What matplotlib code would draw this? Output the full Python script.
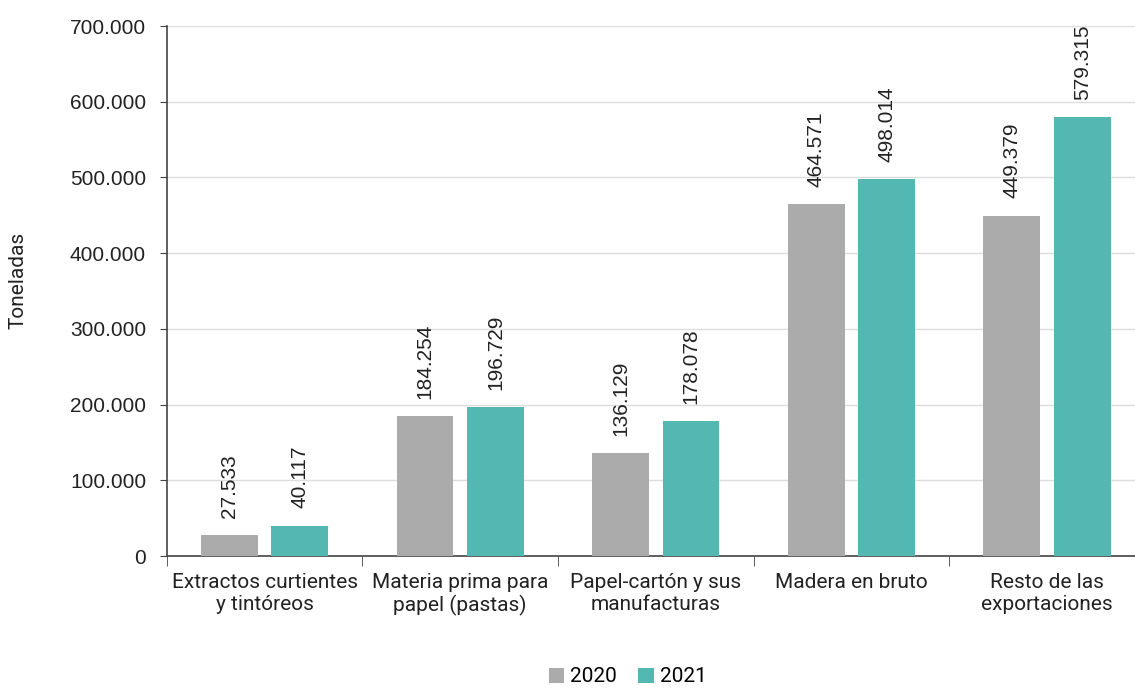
import numpy as np
import matplotlib.pyplot as plt
from matplotlib.patches import Patch

categories = [
    "Extractos curtientes\ny tintóreos",
    "Materia prima para\npapel (pastas)",
    "Papel-cartón y sus\nmanufacturas",
    "Madera en bruto",
    "Resto de las\nexportaciones",
]
vals_2020 = [27533, 184254, 136129, 464571, 449379]
vals_2021 = [40117, 196729, 178078, 498014, 579315]
series_names = ["2020", "2021"]
yticks = [0, 100000, 200000, 300000, 400000, 500000, 600000, 700000]

color_2020 = "#ABABAB"
color_2021 = "#52B8B1"
arial = ["Liberation Sans", "DejaVu Sans"]


def fmt(v):
    return f"{v:,.0f}".replace(",", ".")


plt.rcParams["font.family"] = ["Roboto", "DejaVu Sans"]

fig = plt.figure(figsize=(11.35, 6.9), dpi=100)
ax = fig.add_axes([0.147, 0.1942, 0.853, 0.7681])

x = np.arange(len(categories))
w = 0.29
off = 0.18
b1 = ax.bar(x - off, vals_2020, w, color=color_2020, zorder=3)
b2 = ax.bar(x + off, vals_2021, w, color=color_2021, zorder=3)

for bars, vals in ((b1, vals_2020), (b2, vals_2021)):
    for rect, v in zip(bars, vals):
        ax.annotate(fmt(v), (rect.get_x() + rect.get_width() / 2, v),
                    xytext=(0, 12.5), textcoords="offset points", family=arial,
                    rotation=90, ha="center", va="bottom", fontsize=15, color="#222222")

ax.set_yticks(yticks)
ax.set_yticklabels([fmt(v) for v in yticks], fontsize=15, family=arial, color="#222222")
ax.set_xticks(x)
ax.set_xticklabels(categories, fontsize=15, linespacing=1.2, color="#222222")
ax.set_xticks(np.arange(-0.5, 5.0, 1.0), minor=True)
# limits after ticks, since set_xticks widens the view
ax.set_ylim(0, 700000)
ax.set_xlim(-0.5, 4.45)
ax.tick_params(axis="x", which="major", length=0, pad=12)
ax.tick_params(axis="x", which="minor", length=7, color="#444444")
ax.tick_params(axis="y", length=5, color="#444444", pad=10)

ax.grid(axis="y", color="#DDDDDD", linewidth=1, zorder=0)
for s in ("top", "right"):
    ax.spines[s].set_visible(False)
for s in ("left", "bottom"):
    ax.spines[s].set_color("#444444")
    ax.spines[s].set_linewidth(1.2)

fig.text(0.016, 0.5942, "Toneladas", rotation=90, ha="center", va="center",
         fontsize=15, color="#222222")

handles = [Patch(facecolor=color_2020, label=series_names[0]),
           Patch(facecolor=color_2021, label=series_names[1])]
fig.legend(handles=handles, loc="lower center", bbox_to_anchor=(0.553, -0.022), ncol=2,
           frameon=False, fontsize=15, handlelength=0.75, handleheight=0.75,
           handletextpad=0.3, columnspacing=1.0)

fig.savefig("out.png", dpi=100)
